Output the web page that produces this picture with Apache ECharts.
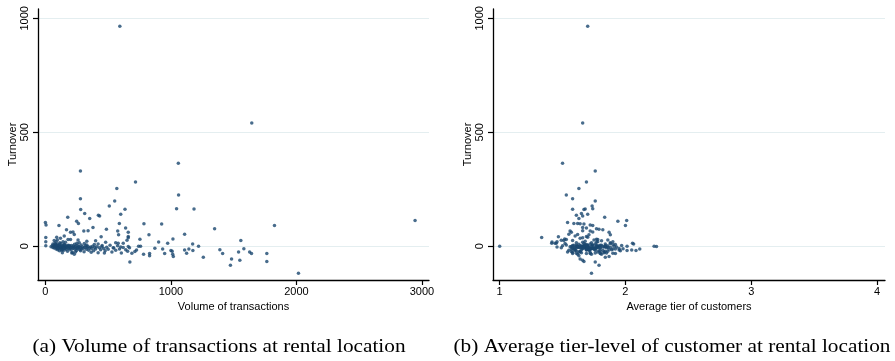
<!DOCTYPE html>
<html>
<head>
<meta charset="utf-8">
<script src="https://cdn.jsdelivr.net/npm/echarts@6.0.0/dist/echarts.min.js"></script>
<style>
html,body{margin:0;padding:0;background:#fff;}
#c{width:895px;height:361px;}
</style>
</head>
<body>
<div id="c"></div>
<script>
// ---- Data: one entry per rental location (volume, average tier, turnover) ----
// Group A: high-turnover locations
const volumeA = [593,1644,1059,279,718,569,1061,279,552,509,
  1045,1184,634,281,313,600,422,432,178,353,
  2945,249,1825,0,263,589,785,926,5,108,
  379,639,1348,486,168,576,306,340,660,200,
  220];
const tierA = [1.70,1.66,1.50,1.76,1.69,1.63,1.53,1.58,1.76,1.735,
  1.74,1.68,1.58,1.67,1.65,1.70,1.61,1.66,1.835,1.63,
  2.01,1.94,2.00,1.54,1.62,1.59,1.64,1.67,1.72,1.74,
  1.66,1.69,1.77,1.79,1.82,1.72,1.56,1.66,1.57,1.87,
  1.74];
const turnoverA = [965,541,364,330,282,253,225,209,199,177,
  165,164,162,161,144,140,136,133,127,122,
  113,110,91,104,100,100,99,98,93,91,
  82,80,77,75,73,67,67,68,61,61,
  63];

// Group B: moderate positive turnover
const volumeB = [1109,825,583,660,444,3,660,753,1016,3,
  150,120,90,230,260,180,70,330,400,480,
  560,95,140,200,250,3];
const tierB = [1.55,1.88,1.71,1.69,1.467,1.334,1.66,1.77,1.517,1.456,
  1.60,1.64,1.70,1.62,1.75,1.78,1.58,1.68,1.81,1.66,
  1.73,1.86,1.90,1.53,1.45,1.50];
const turnoverB = [53,50,51,43,42,39,37,31,32,20,
  45,35,40,52,28,30,25,22,24,18,
  15,28,20,30,13,2];

// Group C: strongly negative turnover
const volumeC = [2016,1474,673,1764,1549,1483,1258];
const tierC = [1.73,1.79,1.76,1.67,1.66,1.64,1.84];
const turnoverC = [-118,-83,-69,-67,-61,-56,-48];

// Group L: larger locations near zero turnover
const volumeL = [1220,1173,1143,1175,1109,1125,1000,1010,1014,1019,
  974,934,950,1390,1412,1539,1557,1581,1627,1642,
  1764,902,872,830,830,782,758,742,726,713,
  689,660,620,600,540,580,650];
const tierL = [1.00,2.065,2.114,2.084,2.05,1.90,2.013,1.86,1.62,1.87,
  2.056,1.76,1.58,1.71,1.69,1.78,1.51,1.981,1.83,1.92,
  1.72,1.416,1.75,1.80,1.63,1.73,2.013,2.228,1.95,1.57,
  1.61,2.247,1.414,1.456,1.49,1.44,1.49];
const turnoverL = [0,10,-12,-19,-16,-31,-19,-22,-35,-45,
  13,-12,-32,-15,-32,-25,25,-11,-25,-32,
  -32,19,-9,-32,-42,-35,0,0,-16,-23,
  -31,-1,13,-3,-7,13,26];

// Group K: dense cluster of small locations
const volumeK = [45,55,60,66,70,74,78,82,85,88,
  90,93,96,98,101,104,106,109,112,115,
  118,120,123,126,129,132,135,138,141,144,
  147,150,153,156,160,163,166,170,173,176,
  180,184,188,192,196,200,204,208,212,216,
  220,224,228,232,236,240,244,248,252,256,
  260,265,270,275,280,285,290,296,302,308,
  314,320,326,332,338,345,352,360,368,376,
  384,392,400,410,420,430,440,452,464,476,
  488,500,515,530,545,560,575,590,605,620,
  640,655,670,100,130,150,75,190,240,280,
  330,115,210,365,270,160,60,390,450,230,
  135,310,85,420,470];
const tierK = [1.62,1.70,1.78,1.66,1.74,1.59,1.83,1.68,1.72,1.64,
  1.80,1.57,1.76,1.69,1.61,1.88,1.73,1.65,1.79,1.70,
  1.60,1.84,1.67,1.75,1.63,1.91,1.71,1.58,1.77,1.66,
  1.82,1.69,1.62,1.74,1.86,1.68,1.59,1.78,1.71,1.64,
  1.80,1.73,1.67,1.92,1.61,1.76,1.69,1.84,1.65,1.72,
  1.58,1.79,1.70,1.63,1.87,1.67,1.75,1.60,1.81,1.71,
  1.66,1.77,1.62,1.89,1.68,1.74,1.57,1.82,1.70,1.64,
  1.78,1.73,1.60,1.85,1.69,1.76,1.66,1.93,1.71,1.62,
  1.80,1.68,1.75,1.58,1.83,1.70,1.65,1.77,1.72,1.61,
  1.86,1.69,1.74,1.63,1.80,1.71,1.67,1.90,1.76,1.64,
  1.72,1.84,1.60,1.95,1.55,1.92,1.52,1.97,1.54,1.96,
  1.53,1.88,1.85,1.58,1.61,1.77,1.84,1.90,1.56,1.81,
  1.65,1.88,1.78,1.72,1.80];
const turnoverK = [-2,3,-5,0,-8,5,-3,8,-12,2,
  -6,-1,10,-15,4,-4,-9,1,-20,6,
  -7,-2,12,-11,-5,0,-14,3,-8,-1,
  -17,7,-4,-10,2,-6,-13,1,-3,-22,
  5,-9,-2,-12,0,-7,-16,3,-5,-27,
  -10,1,-4,9,-13,-1,-8,-19,4,-6,
  -11,0,-3,-15,-7,6,-12,-2,-9,-24,
  -4,2,-13,-6,-1,-17,-8,-3,-10,0,
  -20,-5,-12,-2,-28,-7,-15,3,-10,-20,
  -4,-13,5,-25,-8,-18,2,-12,-30,-5,
  -15,-22,-6,-10,-18,8,12,3,-25,-20,
  6,15,-30,-26,15,18,10,8,-2,-35,
  -28,12,20,10,-30];

// Tick labels
const volumeTicks = [0, 1000, 2000, 3000];
const tierTicks = [1, 2, 3, 4];
const turnoverTicks = [0, 500, 1000];

const captionA = '(a) Volume of transactions at rental location';
const captionB = '(b) Average tier-level of customer at rental location';

// ---- Build series data ----
const volume = [].concat(volumeA, volumeB, volumeC, volumeL, volumeK);
const tier = [].concat(tierA, tierB, tierC, tierL, tierK);
const turnover = [].concat(turnoverA, turnoverB, turnoverC, turnoverL, turnoverK);
const dataVol = volume.map((v, i) => [v, turnover[i]]);
const dataTier = tier.map((v, i) => [v, turnover[i]]);

const navy = '#1a476f';
const sans = '"Liberation Sans", Arial, sans-serif';
const plain = v => String(v);

function xAxisCfg(idx, min, max, ticks, name) {
  return {
    gridIndex: idx, type: 'value', min: min, max: max,
    name: name, nameLocation: 'middle', nameGap: 18,
    nameTextStyle: {color: '#000', fontSize: 11, fontFamily: sans},
    axisLine: {show: true, onZero: false, lineStyle: {color: '#000', width: 1.3}},
    axisTick: {show: true, length: 5, customValues: ticks, lineStyle: {color: '#000', width: 1.2}},
    axisLabel: {show: true, customValues: ticks, formatter: plain, margin: 6, color: '#000', fontSize: 11, fontFamily: sans},
    splitLine: {show: false}
  };
}
function yAxisCfg(idx) {
  return {
    gridIndex: idx, type: 'value', min: -148, max: 1041,
    name: 'Turnover', nameLocation: 'middle', nameGap: 20, nameRotate: 90,
    nameTextStyle: {color: '#000', fontSize: 11, fontFamily: sans},
    axisLine: {show: true, onZero: false, lineStyle: {color: '#000', width: 1.3}},
    axisTick: {show: true, length: 5, customValues: turnoverTicks, lineStyle: {color: '#000', width: 1.2}},
    axisLabel: {show: true, customValues: turnoverTicks, formatter: plain, rotate: 90, margin: 8, color: '#000', fontSize: 11, fontFamily: sans},
    splitLine: {show: true, lineStyle: {color: '#e4eef0', width: 1}}
  };
}

const chart = echarts.init(document.getElementById('c'), null, {renderer: 'canvas'});
chart.setOption({
  animation: false,
  backgroundColor: '#fff',
  grid: [
    {left: 38, top: 9, width: 391, height: 271},
    {left: 493, top: 9, width: 392, height: 271}
  ],
  xAxis: [
    xAxisCfg(0, -59, 3056, volumeTicks, 'Volume of transactions'),
    xAxisCfg(1, 0.947, 4.064, tierTicks, 'Average tier of customers')
  ],
  yAxis: [yAxisCfg(0), yAxisCfg(1)],
  series: [
    {type: 'scatter', xAxisIndex: 0, yAxisIndex: 0, data: dataVol, symbol: 'circle', symbolSize: 3.5,
     itemStyle: {color: navy}},
    {type: 'scatter', xAxisIndex: 1, yAxisIndex: 1, data: dataTier, symbol: 'circle', symbolSize: 3.5,
     itemStyle: {color: navy}}
  ],
  graphic: [
    {type: 'text', x: 219, y: 347, scaleX: 1.12,
     style: {text: captionA, font: '19px "Liberation Serif", "Times New Roman", serif', fill: '#000', align: 'center', verticalAlign: 'middle'}},
    {type: 'text', x: 672, y: 347, scaleX: 1.12,
     style: {text: captionB, font: '19px "Liberation Serif", "Times New Roman", serif', fill: '#000', align: 'center', verticalAlign: 'middle'}}
  ]
});
</script>
</body>
</html>
